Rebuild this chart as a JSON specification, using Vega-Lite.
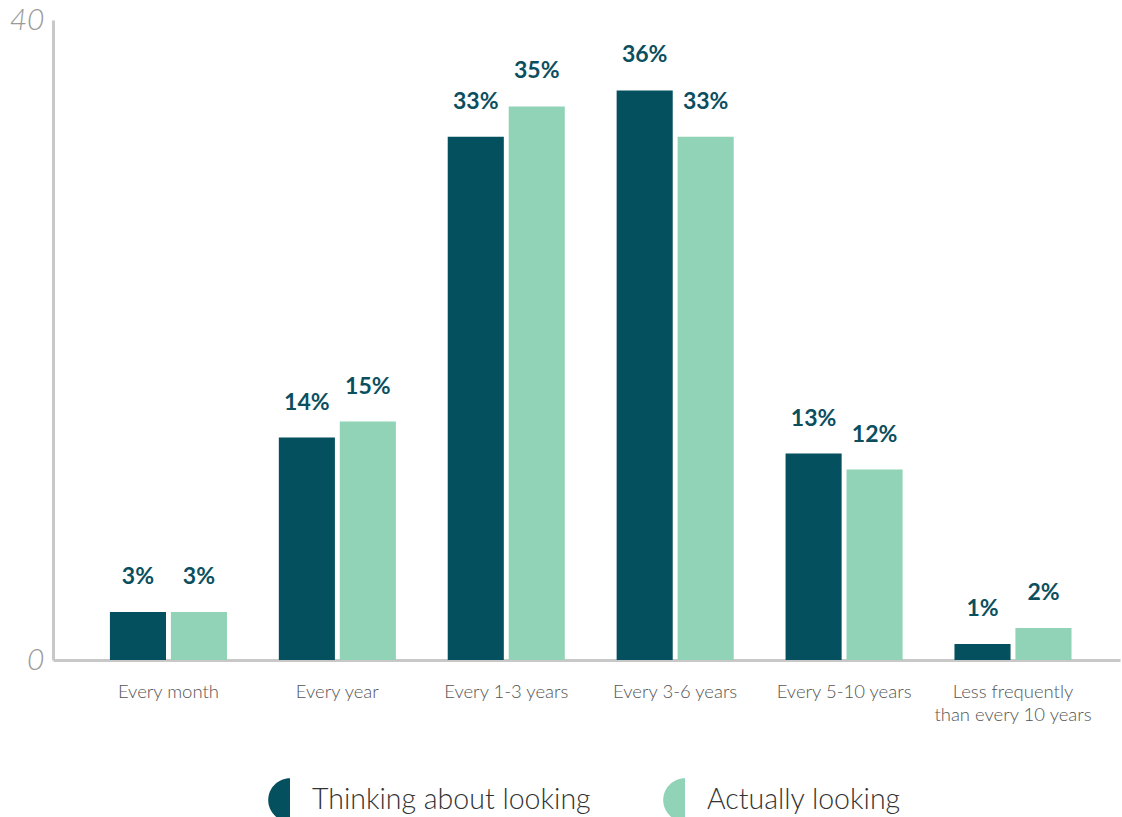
{
  "$schema": "https://vega.github.io/schema/vega-lite/v6.json",
  "width": 1067,
  "height": 640,
  "autosize": "none",
  "padding": {"left": 53, "top": 20, "right": 2, "bottom": 157},
  "background": "white",
  "config": {"view": {"stroke": null}, "font": "Lato"},
  "data": {
    "values": [
      {"frequency": "Every month", "group": "Thinking about looking", "share": 0.03},
      {"frequency": "Every month", "group": "Actually looking", "share": 0.03},
      {"frequency": "Every year", "group": "Thinking about looking", "share": 0.139},
      {"frequency": "Every year", "group": "Actually looking", "share": 0.149},
      {"frequency": "Every 1-3 years", "group": "Thinking about looking", "share": 0.327},
      {"frequency": "Every 1-3 years", "group": "Actually looking", "share": 0.346},
      {"frequency": "Every 3-6 years", "group": "Thinking about looking", "share": 0.356},
      {"frequency": "Every 3-6 years", "group": "Actually looking", "share": 0.327},
      {"frequency": "Every 5-10 years", "group": "Thinking about looking", "share": 0.129},
      {"frequency": "Every 5-10 years", "group": "Actually looking", "share": 0.119},
      {"frequency": "Less frequently than every 10 years", "group": "Thinking about looking", "share": 0.01},
      {"frequency": "Less frequently than every 10 years", "group": "Actually looking", "share": 0.02}
    ]
  },
  "encoding": {
    "x": {
      "field": "frequency",
      "type": "nominal",
      "sort": null,
      "scale": {"paddingInner": 0.307, "paddingOuter": 0.312, "align": 0.54},
      "axis": {
        "title": null,
        "domainColor": "#c8c8c8",
        "domainWidth": 3,
        "ticks": false,
        "labelAngle": 0,
        "labelFontSize": 18.5,
        "labelFontWeight": 300,
        "labelColor": "#555555",
        "labelPadding": 22,
        "labelLimit": 300,
        "labelLineHeight": 23,
        "labelExpr": "datum.label == 'Less frequently than every 10 years' ? ['Less frequently', 'than every 10 years'] : datum.label"
      }
    },
    "xOffset": {
      "field": "group",
      "sort": ["Thinking about looking", "Actually looking"],
      "scale": {"paddingInner": 0.08, "paddingOuter": 0}
    },
    "y": {
      "field": "share",
      "type": "quantitative",
      "scale": {"domain": [0, 0.4]},
      "axis": {
        "title": null,
        "values": [0, 0.4],
        "labelExpr": "datum.value * 100",
        "domainColor": "#c8c8c8",
        "domainWidth": 3,
        "ticks": false,
        "grid": false,
        "labelFontSize": 30,
        "labelFontStyle": "italic",
        "labelFontWeight": 300,
        "labelColor": "#9a9a9a",
        "labelPadding": 9
      }
    }
  },
  "layer": [
    {
      "mark": {"type": "bar"},
      "encoding": {
        "color": {
          "field": "group",
          "type": "nominal",
          "scale": {"domain": ["Thinking about looking", "Actually looking"], "range": ["#05505f", "#90d3b6"]},
          "legend": {
            "title": null,
            "orient": "none",
            "direction": "horizontal",
            "legendX": 215,
            "legendY": 758,
            "symbolType": "M0,-1A1,1,0,0,0,0,1Z",
            "symbolSize": 1900,
            "symbolStrokeWidth": 0,
            "symbolOpacity": 1,
            "labelFontSize": 28.5,
            "labelFontWeight": 300,
            "labelColor": "#333333",
            "labelOffset": 0,
            "labelLimit": 400,
            "columnPadding": 72
          }
        }
      }
    },
    {
      "mark": {"type": "text", "baseline": "middle", "dy": -35, "fontSize": 23, "fontWeight": "bold", "color": "#0b4f5f"},
      "encoding": {
        "text": {"field": "share", "type": "quantitative", "format": ".0%"}
      }
    }
  ]
}
